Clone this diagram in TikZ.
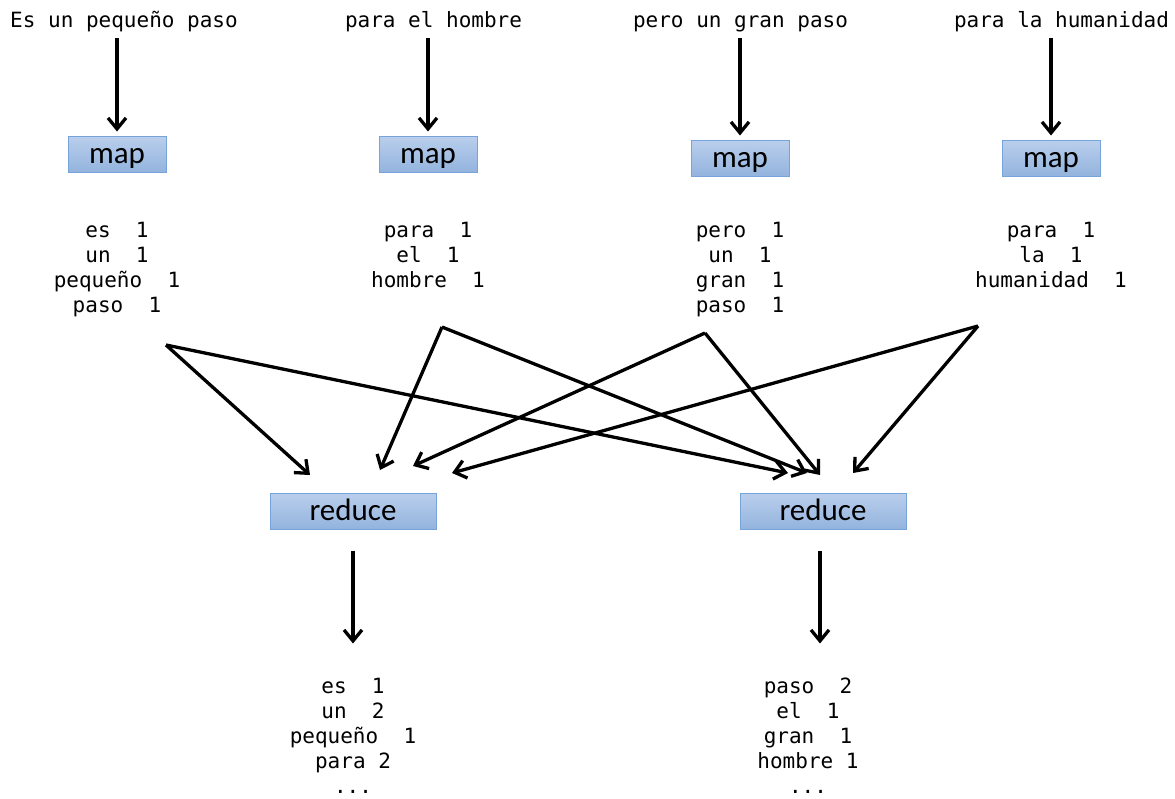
\documentclass[tikz,border=0pt]{standalone}
\usepackage{fontspec}
\setmonofont{DejaVu Sans Mono}
\newfontfamily\boxfont{Carlito}
\usetikzlibrary{arrows.meta}
\definecolor{boxtop}{HTML}{BACFEC}
\definecolor{boxbot}{HTML}{93B3DE}
\definecolor{boxedge}{HTML}{76A3D9}
\tikzset{
  txt/.style={font=\ttfamily\fontsize{21}{25}\selectfont, inner sep=0pt, align=center},
  procbox/.style={draw=boxedge, line width=1pt, top color=boxtop, bottom color=boxbot,
    minimum height=36pt, inner sep=0pt, text height=22pt, text depth=4pt,
    font=\boxfont\fontsize{31}{31}\selectfont},
  mapbox/.style={procbox, minimum width=98pt},
  redbox/.style={procbox, minimum width=166pt},
  arr/.style={line width=3.3pt, -{Straight Barb[length=11pt,width=18pt]}}
}
\begin{document}
\begin{tikzpicture}[x=1pt,y=-1pt]
\useasboundingbox (0,0) rectangle (1175,798);
% input sentences
\node[txt, anchor=base] (t1) at (124,27) {Es un pequeño paso};
\node[txt, anchor=base] (t2) at (433.5,27) {para el hombre};
\node[txt, anchor=base] (t3) at (740.5,27) {pero un gran paso};
\node[txt, anchor=base] (t4) at (1061.5,27) {para la humanidad};
% map boxes
\node[mapbox] (m1) at (117,154) {map};
\node[mapbox] (m2) at (428,154) {map};
\node[mapbox] (m3) at (740,158) {map};
\node[mapbox] (m4) at (1051,158) {map};
% map outputs
\node[txt, anchor=north] (o1) at (117,222) {es\ \ 1\\un\ \ 1\\pequeño\ \ 1\\paso\ \ 1};
\node[txt, anchor=north] (o2) at (428,222) {para\ \ 1\\el\ \ 1\\hombre\ \ 1};
\node[txt, anchor=north] (o3) at (740,222) {pero\ \ 1\\un\ \ 1\\gran\ \ 1\\paso\ \ 1};
\node[txt, anchor=north] (o4) at (1051,222) {para\ \ 1\\la\ \ 1\\humanidad\ \ 1};
% reduce boxes
\node[redbox] (r1) at (353,511) {reduce};
\node[redbox] (r2) at (823,511) {reduce};
% reduce outputs
\node[txt, anchor=north] (f1) at (353,678) {es\ \ 1\\un\ \ 2\\pequeño\ \ 1\\para 2\\...};
\node[txt, anchor=north] (f2) at (808,678) {paso\ \ 2\\el\ \ 1\\gran\ \ 1\\hombre 1\\...};
% arrows sentences -> map
\draw[arr] (m1.north |- t1.south) ++(0,6) -- ([yshift=4pt]m1.north);
\draw[arr] (m2.north |- t2.south) ++(0,6) -- ([yshift=4pt]m2.north);
\draw[arr] (m3.north |- t3.south) ++(0,6) -- ([yshift=4pt]m3.north);
\draw[arr] (m4.north |- t4.south) ++(0,6) -- ([yshift=4pt]m4.north);
% shuffle start / end points
\coordinate (s1) at (166,345);
\coordinate (s2) at (442,327);
\coordinate (s3) at (705,333);
\coordinate (s4) at (978,326);
\coordinate (a1) at (310,475);
\coordinate (a2) at (380,470);
\coordinate (a3) at (413,466);
\coordinate (a4) at (452,473);
\coordinate (b1) at (788,473);
\coordinate (b2) at (807,473);
\coordinate (b3) at (820,475);
\coordinate (b4) at (853,473);
\draw[arr] (s1) -- (a1);
\draw[arr] (s1) -- (b1);
\draw[arr] (s2) -- (a2);
\draw[arr] (s2) -- (b2);
\draw[arr] (s3) -- (a3);
\draw[arr] (s3) -- (b3);
\draw[arr] (s4) -- (a4);
\draw[arr] (s4) -- (b4);
% reduce -> outputs
\draw[arr] ([yshift=-21pt]r1.south) -- ([yshift=-114pt]r1.south);
\draw[arr] ([xshift=-3pt,yshift=-21pt]r2.south) -- ([xshift=-3pt,yshift=-114pt]r2.south);
\end{tikzpicture}
\end{document}
